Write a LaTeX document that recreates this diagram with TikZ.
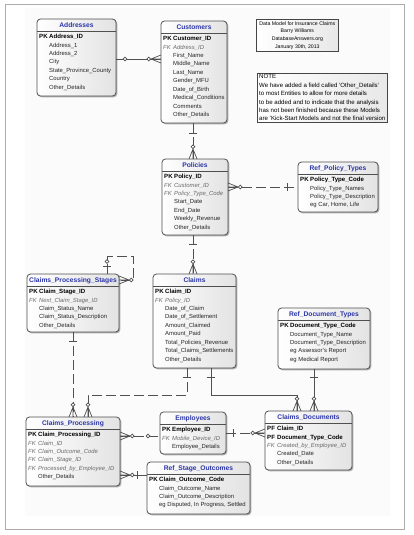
\documentclass[tikz,border=0pt]{standalone}
\usepackage{fontspec}
\setmainfont{Liberation Sans}
\usetikzlibrary{shadows}
\definecolor{ttlblue}{HTML}{2B35A8}
\definecolor{bdr}{HTML}{4F4F4F}
\definecolor{fkgrey}{HTML}{6A6A6A}
\definecolor{relc}{HTML}{505050}
\newcommand\keytxtP{PK}
\newcommand\keytxtF{FK}
\newcommand\keytxtD{PF}
\newcommand\keytxtN{}
\tikzset{
  entity/.style={draw=bdr, line width=0.8pt, rounded corners=3.5pt, left color=white, right color=gray!22,
    drop shadow={shadow xshift=1.3pt, shadow yshift=-1.3pt, fill=black, opacity=0.3},
    anchor=north west, inner sep=0pt, outer sep=0pt},
  sepline/.style={draw=bdr, line width=0.5pt},
  etitle/.style={font=\fontsize{6.7}{8}\selectfont\bfseries, text=ttlblue, inner sep=0pt},
  rowbase/.style={anchor=west, inner sep=0pt, text height=4.4pt, text depth=1.2pt, font=\fontsize{5.9}{7}\selectfont},
  rowP/.style={rowbase, font=\fontsize{6.1}{7}\selectfont\bfseries, text=black},
  rowD/.style={rowP},
  rowF/.style={rowbase, font=\fontsize{5.9}{7}\selectfont\itshape, text=fkgrey},
  rowN/.style={rowbase, text=black!85},
  keyP/.style={rowP}, keyD/.style={rowP}, keyF/.style={rowF}, keyN/.style={rowN},
  rel/.style={draw=relc, line width=0.7pt},
  reld/.style={rel, dash pattern=on 10pt off 4pt},
  infobox/.style={draw=gray!55!black, line width=0.7pt, left color=white, right color=gray!18, anchor=north west, inner sep=0pt},
  infotext/.style={inner sep=0pt},
}
\newcommand\entity[6]{%
  \node[entity, minimum width={(#4)-(#2)}, minimum height={(#5)-(#3)}] (#1) at (#2,#3) {};
  \draw[sepline] (#2,#3+12) -- (#4,#3+12);
  \node[etitle] (#1-title) at ({(#2+#4)/2},#3+6.5) {#6};
}
\newcommand\rows[4]{%
  \foreach \k/\t [count=\i from 0] in {#4} {
    \node[key\k] (#1-k\i) at (#2+2,#3+18+\i*8.45) {\csname keytxt\k\endcsname};
    \node[row\k] (#1-r\i) at (#2+12,#3+18+\i*8.45) {\t};
  }
}
\newcommand\zmany[4]{%
  \draw[rel] ({#1+10*(#3)},{#2+10*(#4)}) -- ({#1-4*(#4)},{#2+4*(#3)})
             ({#1+10*(#3)},{#2+10*(#4)}) -- (#1,#2)
             ({#1+10*(#3)},{#2+10*(#4)}) -- ({#1+4*(#4)},{#2-4*(#3)});
  \draw[rel, fill=white] ({#1+12.3*(#3)},{#2+12.3*(#4)}) circle (1.9pt);
}
\newcommand\oneb[5]{%
  \draw[rel] ({#1+(#5)*(#3)-4*(#4)},{#2+(#5)*(#4)+4*(#3)}) -- ({#1+(#5)*(#3)+4*(#4)},{#2+(#5)*(#4)-4*(#3)});
}
\newcommand\zeroc[5]{%
  \draw[rel, fill=white] ({#1+(#5)*(#3)},{#2+(#5)*(#4)}) circle (1.9pt);
}
\begin{document}
\begin{tikzpicture}[x=1pt,y=-1pt]
\useasboundingbox (0,0) rectangle (414,535);
\fill[white] (0,0) rectangle (414,535);
\fill[gray!3] (25,8) rectangle (390,516);
\draw[gray!65, line width=0.9pt] (5.5,4) rectangle (404.5,529.5);

% entities
\entity{addr}{37}{19}{116}{96}{Addresses}
\rows{addr}{37}{19}{P/Address\_ID, N/Address\_1, N/Address\_2, N/City, N/State\_Province\_County, N/Country, N/Other\_Details}

\entity{cust}{161}{21}{227}{123}{Customers}
\rows{cust}{161}{21}{P/Customer\_ID, F/Address\_ID, N/First\_Name, N/Middle\_Name, N/Last\_Name, N/Gender\_MFU, N/Date\_of\_Birth, N/Medical\_Conditions, N/Comments, N/Other\_Details}

\entity{pol}{162}{159}{228}{235}{Policies}
\rows{pol}{162}{159}{P/Policy\_ID, F/Customer\_ID, F/Policy\_Type\_Code, N/Start\_Date, N/End\_Date, N/Weekly\_Revenue, N/Other\_Details}

\entity{rpt}{298}{162}{378}{212}{Ref\_Policy\_Types}
\rows{rpt}{298}{162}{P/Policy\_Type\_Code, N/Policy\_Type\_Names, N/Policy\_Type\_Description, N/{eg Car, Home, Life}}

\entity{cps}{27}{274}{119}{332}{Claims\_Processing\_Stages}
\rows{cps}{27}{274}{P/Claim\_Stage\_ID, F/Next\_Claim\_Stage\_ID, N/Claim\_Status\_Name, N/Claim\_Status\_Description, N/Other\_Details}

\entity{claims}{153}{274}{236}{368}{Claims}
\rows{claims}{153}{274}{P/Claim\_ID, F/Policy\_ID, N/Date\_of\_Claim, N/Date\_of\_Settlement, N/Amount\_Claimed, N/Amount\_Paid, N/Total\_Policies\_Revenue, N/Total\_Claims\_Settlements, N/Other\_Details}

\entity{rdt}{278}{308}{370}{369}{Ref\_Document\_Types}
\rows{rdt}{278}{308}{P/Document\_Type\_Code, N/Document\_Type\_Name, N/Document\_Type\_Description, N/eg Assessor's Report, N/eg Medical Report}

\entity{cp}{26}{417}{120}{486}{Claims\_Processing}
\rows{cp}{26}{417}{P/Claim\_Processing\_ID, F/Claim\_ID, F/Claim\_Outcome\_Code, F/Claim\_Stage\_ID, F/Processed\_by\_Employee\_ID, N/Other\_Details}

\entity{emp}{160}{412}{226}{454}{Employees}
\rows{emp}{160}{412}{P/Employee\_ID, F/Mobile\_Device\_ID, N/Employee\_Details}

\entity{cd}{265}{411}{352}{470}{Claims\_Documents}
\rows{cd}{265}{411}{D/Claim\_ID, D/Document\_Type\_Code, F/Created\_by\_Employee\_ID, N/Created\_Date, N/Other\_Details}

\entity{rso}{147}{462}{250}{514}{Ref\_Stage\_Outcomes}
\rows{rso}{147}{462}{P/Claim\_Outcome\_Code, N/Claim\_Outcome\_Name, N/Claim\_Outcome\_Description, N/{eg Disputed, In Progress, Settled}}

% info boxes
\node[infobox, minimum width=82pt, minimum height=32pt] (hdr) at (256,19) {};
\node[infotext, font=\fontsize{5.2}{7.7}\selectfont, align=center] (hdrtext) at (hdr.center)
  {Data Model for Insurance Claims\\Barry Williams\\DatabaseAnswers.org\\January 30th, 2013};
\node[infobox, minimum width=130pt, minimum height=49pt] (note) at (257,73) {};
\node[infotext, font=\fontsize{6.1}{8.4}\selectfont, align=left, anchor=north west] (notetext) at (259,74.5)
  {NOTE\\We have added a field called 'Other\_Details'\\to most Entities to allow  for more details\\to be added and to indicate that the analysis\\has not been finished because these Models\\are 'Kick-Start Models and not the final version};

% relationships
\draw[rel] (addr.east |- 0,59) -- (cust.west |- 0,59);
\zeroc{116}{59}{1}{0}{9}
\zmany{161}{59}{-1}{0}

\draw[reld] (cust.south -| 193,0) -- (pol.north -| 193,0);
\oneb{193}{123}{0}{1}{10}
\zmany{193}{159}{0}{-1}

\draw[reld] (pol.east |- 0,187) -- (rpt.west |- 0,187);
\zmany{228}{187}{1}{0}
\oneb{298}{187}{-1}{0}{11}

\draw[reld] (pol.south -| 193,0) -- (claims.north -| 193,0);
\oneb{193}{235}{0}{1}{9}
\zmany{193}{274}{0}{-1}

\draw[reld] (cps.north -| 107,0) -- (107,256) -- (133,256) -- (133,280) -- (cps.east |- 0,280);
\oneb{107}{274}{0}{-1}{8}
\zeroc{107}{274}{0}{-1}{12.5}
\zmany{119}{280}{1}{0}

\draw[reld] (cps.south -| 73,0) -- (cp.north -| 73,0);
\oneb{73}{332}{0}{1}{9}
\zmany{73}{417}{0}{-1}

\draw[reld] (claims.south -| 187,0) -- (187,395) -- (88,395) -- (cp.north -| 88,0);
\oneb{187}{368}{0}{1}{9}
\zmany{88}{417}{0}{-1}

\draw[rel] (claims.south -| 211,0) -- (211,395) -- (297,395) -- (cd.north -| 297,0);
\oneb{211}{368}{0}{1}{9}
\zmany{297}{411}{0}{-1}

\draw[rel] (rdt.south -| 314,0) -- (cd.north -| 314,0);
\oneb{314}{369}{0}{1}{8}
\zmany{314}{411}{0}{-1}

\draw[reld] (cp.east |- 0,436) -- (emp.west |- 0,436);
\zmany{120}{436}{1}{0}
\zeroc{160}{436}{-1}{0}{12}

\draw[rel] (cp.east |- 0,475) -- (rso.west |- 0,475);
\zmany{120}{475}{1}{0}
\oneb{147}{475}{-1}{0}{10}

\draw[reld] (emp.east |- 0,433) -- (cd.west |- 0,433);
\oneb{226}{433}{1}{0}{7}
\zmany{265}{433}{-1}{0}
\end{tikzpicture}
\end{document}
